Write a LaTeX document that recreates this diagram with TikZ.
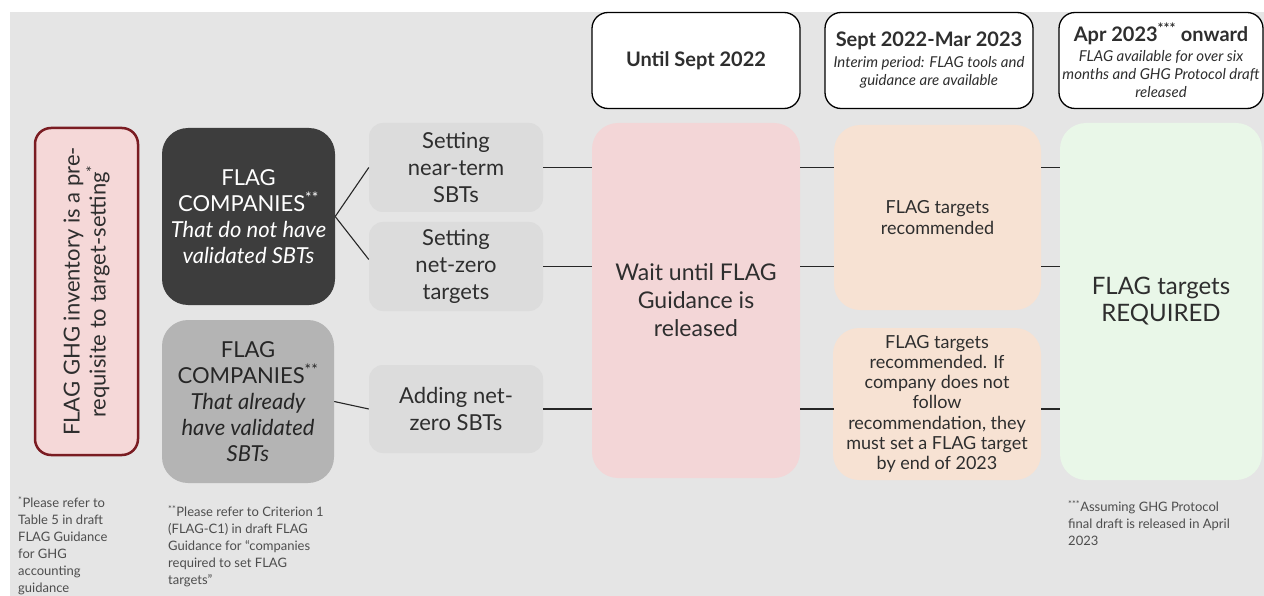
\documentclass[tikz,border=0pt]{standalone}
\usepackage{fontspec}
\setmainfont{Lato}
\usepackage{xcolor}
\usepackage{tikz}
\usetikzlibrary{positioning}

\definecolor{bggray}{HTML}{E5E5E5}
\definecolor{invpink}{HTML}{F5D8D8}
\definecolor{invred}{HTML}{7A1C22}
\definecolor{darkbox}{HTML}{3D3D3D}
\definecolor{midbox}{HTML}{B4B4B4}
\definecolor{lightbox}{HTML}{DCDCDC}
\definecolor{waitpink}{HTML}{F3D6D7}
\definecolor{peach}{HTML}{F7E2D3}
\definecolor{mint}{HTML}{E9F7E8}
\definecolor{txt}{HTML}{2E2E2E}

\tikzset{
	box/.style = {
			rounded corners = 14pt,
			inner sep       = 2pt,
			align           = center,
			text            = txt,
			font            = \fontsize{22}{27}\selectfont,
		},
	hdr/.style = {box, draw=black, line width=1.3pt, fill=white, rounded corners=16pt,
			minimum width=208pt, minimum height=96pt, font=\fontsize{15}{18}\selectfont},
	action/.style = {box, fill=lightbox, minimum width=174pt, minimum height=89pt},
	phase/.style = {box, rounded corners=26pt, minimum width=208pt},
	link/.style = {draw=black!85, line width=1.1pt},
	note/.style = {anchor=north west, inner sep=0pt, align=left, text=txt!85,
			font=\fontsize{13}{17}\selectfont},
}

\begin{document}
\begin{tikzpicture}[x=1pt, y=-1pt]
	\useasboundingbox (0,0) rectangle (1264,596);
	\fill[bggray] (10,12) rectangle (1264,596);

	\node[hdr] (h1) at (696,60.5) {\fontsize{20}{24}\selectfont\bfseries Until Sept 2022};
	\node[hdr] (h2) at (929,60.5) {{\fontsize{20}{24}\selectfont\bfseries Sept 2022-Mar 2023}\\[3pt]
		\itshape Interim period: FLAG tools and\\
		\itshape guidance are available};
	\node[hdr, minimum width=204pt] (h3) at (1161,60.5) {{\fontsize{20}{24}\selectfont\bfseries Apr 2023\textsuperscript{***} onward}\\[2pt]
		\itshape FLAG available for over six\\
		\itshape months and GHG Protocol draft\\
		\itshape released};

	\node[box, fill=invpink, draw=invred, line width=2.5pt, rounded corners=16pt, rotate=90,
		minimum width=327pt, minimum height=103pt, font=\fontsize{22}{26}\selectfont] (inv) at (86.5,291.5)
		{FLAG GHG inventory is a pre-\\requisite to target-setting\textsuperscript{*}};

	\node[box, fill=darkbox, text=white, rounded corners=26pt, minimum width=173pt, minimum height=177pt,
		font=\fontsize{22}{26}\selectfont] (fc1) at (248.5,216.5)
		{FLAG\\COMPANIES\textsuperscript{**}\\ \itshape That do not have\\ \itshape validated SBTs};
	\node[box, fill=midbox, text=black!85, rounded corners=26pt, minimum width=172pt, minimum height=163pt,
		font=\fontsize{22}{26}\selectfont] (fc2) at (248,401.5)
		{FLAG\\COMPANIES\textsuperscript{**}\\ \itshape That already\\ \itshape have validated\\ \itshape SBTs};

	\node[action] (near) at (456,167.5) {Setting\\near-term\\SBTs};
	\node[action] (net) at (456,266.5) {Setting\\net-zero\\targets};
	\node[action, minimum height=88pt] (add) at (456,409) {Adding net-\\zero SBTs};

	\node[phase, fill=waitpink, minimum height=355pt, font=\fontsize{23}{28}\selectfont] (wait) at (696,300.5)
		{Wait until FLAG\\Guidance is\\released};
	\node[phase, fill=peach, minimum width=207pt, minimum height=185pt, font=\fontsize{18}{21}\selectfont] (rec) at (937.5,217.5)
		{FLAG targets\\recommended};
	\node[phase, fill=peach, minimum height=152pt, font=\fontsize{18}{20.3}\selectfont] (recif) at (937,404)
		{FLAG targets\\recommended. If\\company does not\\follow\\recommendation, they\\must set a FLAG target\\by end of 2023};
	\node[phase, fill=mint, minimum width=202pt, minimum height=357pt, font=\fontsize{24}{27}\selectfont] (req) at (1161,301.5)
		{FLAG targets\\REQUIRED};

	\draw[link] (fc1.east) -- (near.west);
	\draw[link] (fc1.east) -- ([yshift=7pt]net.west);
	\draw[link] (fc2.east) -- (add.west);
	\foreach \n in {near,net,add} {
		\draw[link] (\n.east) -- (\n.east -| wait.west);
		\draw[link] (\n.east -| wait.east) -- (\n.east -| rec.west);
		\draw[link] (\n.east -| rec.east) -- (\n.east -| req.west);
	}

	\node[note] (n1) at (18,496) {\textsuperscript{*}Please refer to\\Table 5 in draft\\FLAG Guidance\\for GHG\\accounting\\guidance};
	\node[note] (n2) at (168,505) {\textsuperscript{**}Please refer to Criterion 1\\(FLAG-C1) in draft FLAG\\Guidance for “companies\\required to set FLAG\\targets”};
	\node[note] (n3) at (1068,500) {\textsuperscript{***}Assuming GHG Protocol\\final draft is released in April\\2023};
\end{tikzpicture}
\end{document}
